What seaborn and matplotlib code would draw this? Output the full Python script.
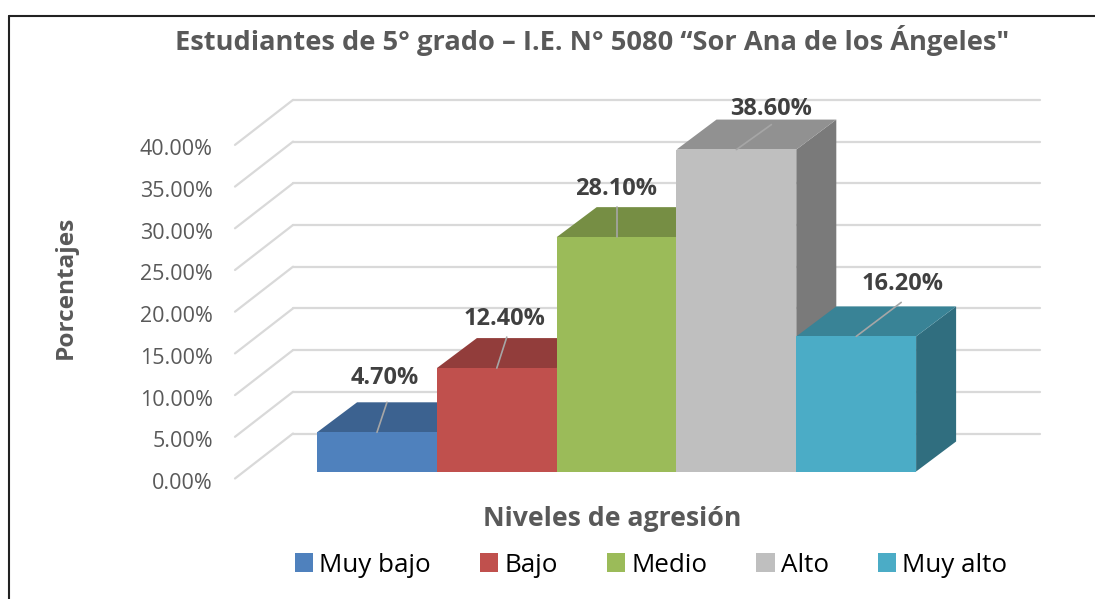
import pandas as pd
import seaborn as sns
import matplotlib
matplotlib.use('Agg')
import matplotlib.pyplot as plt
from matplotlib.patches import Polygon
from matplotlib.lines import Line2D
from matplotlib.transforms import Affine2D
from matplotlib.colors import to_rgb

# data
niveles = ['Muy bajo', 'Bajo', 'Medio', 'Alto', 'Muy alto']
porcentajes = [4.7, 12.4, 28.1, 38.6, 16.2]
etiquetas = ['4.70%', '12.40%', '28.10%', '38.60%', '16.20%']
ticks = [0, 5, 10, 15, 20, 25, 30, 35, 40]

# style
colores = ['#4F81BD', '#C0504D', '#9BBB59', '#BFBFBF', '#4BACC6']
W, H = 1095, 599
text_grey = '#595959'
label_grey = '#404040'
grid_grey = '#D9D9D9'
wall = (58, 45)     # depth of the chart walls, pixels
depth = (40, 30)    # depth of a bar, pixels
lift = 7            # bars stand this far behind the front of the floor
leaders = [(10, 30), (10, 31), (0, 30), (35, 25), (45, 34)]
label_pos = [(8, 54), (8, 49), (-1, 48), (35, 41), (46, 52)]


def px_box(left, top, right, bottom):
    return [left / W, 1 - bottom / H, (right - left) / W, (bottom - top) / H]


def shifted(ax, dx, dy):
    return ax.transData + Affine2D().translate(dx, dy)


def dark(color, k):
    return tuple(c * k for c in to_rgb(color))


sns.set_theme(style='white')
plt.rcParams['font.family'] = ['Open Sans', 'DejaVu Sans']

fig = plt.figure(figsize=(W / 100, H / 100), dpi=100)
ax = fig.add_axes(px_box(235, 144.9, 982, 478.5))

df = pd.DataFrame({'nivel': niveles, 'pct': porcentajes})
sns.barplot(data=df, x='nivel', y='pct', hue='nivel', palette=colores, order=niveles,
            hue_order=niveles, width=1, dodge=False, legend=False, ax=ax, saturation=1)

ax.set_xlim(-1.185, 5.05)
ax.set_ylim(0, 40)
sns.despine(ax=ax, left=True, bottom=True)
ax.set_xticks([])
ax.set_xlabel('')
ax.set_ylabel('')
ax.set_yticks(ticks)
ax.set_yticklabels(['%.2f%%' % t for t in ticks], fontsize=15.5, color=text_grey)
ax.tick_params(axis='y', length=0, pad=16)
for lab in ax.get_yticklabels():
    lab.set_transform(lab.get_transform() + Affine2D().translate(0, -2.5))

# walls
back = shifted(ax, *wall)
for t in ticks:
    ax.plot([-1.185, 5.05], [t, t], transform=back, color=grid_grey, lw=1.6, clip_on=False, zorder=1)
    ax.plot([-1.185, -1.185 + wall[0] / (119.8)], [t, t + wall[1] / 8.34], color=grid_grey, lw=1.6,
            clip_on=False, zorder=1)

# bars with their top and side faces
front = shifted(ax, 0, lift)
ux = depth[0] / 119.8
uy = depth[1] / 8.34
for i, cont in enumerate(ax.containers):
    bar = cont[0]
    x0, x1 = bar.get_x(), bar.get_x() + bar.get_width()
    v = bar.get_height()
    bar.set_transform(front)
    bar.set_clip_on(False)
    bar.set_zorder(3.5 + i)
    bar.set_linewidth(0)
    top = Polygon([(x0, v), (x1, v), (x1 + ux, v + uy), (x0 + ux, v + uy)], closed=True,
                  fc=dark(colores[i], .76), lw=0, transform=front, clip_on=False, zorder=3 + i)
    side = Polygon([(x1, 0), (x1 + ux, uy), (x1 + ux, v + uy), (x1, v)], closed=True,
                   fc=dark(colores[i], .64), lw=0, transform=front, clip_on=False, zorder=3 + i)
    ax.add_patch(side)
    ax.add_patch(top)

    # leader line and value label
    lx, ly = leaders[i]
    cx = (x0 + x1) / 2
    ax.plot([cx, cx + lx / 119.8], [v, v + ly / 8.34], transform=front, color='#A6A6A6', lw=1.2,
            clip_on=False, zorder=20)
    tx, ty = label_pos[i]
    ax.text(cx + tx / 119.8, v + ty / 8.34, etiquetas[i], transform=front, ha='center', va='center',
            fontsize=16.9, fontweight='bold', color=label_grey, zorder=21)

fig.text(592 / W, 1 - 40.5 / H, 'Estudiantes de 5° grado – I.E. N° 5080 “Sor Ana de los Ángeles"',
         ha='center', va='center', fontsize=19.6, fontweight='bold', color=text_grey)
fig.text(612 / W, 1 - 519 / H, 'Niveles de agresión', ha='center', va='center',
         fontsize=19.2, fontweight='bold', color=text_grey)
fig.text(66 / W, 1 - 287 / H, 'Porcentajes', rotation=90, ha='center', va='center',
         fontsize=17.6, fontweight='bold', color=text_grey)

handles = [c[0] for c in ax.containers]
fig.legend(handles, niveles, loc='center', bbox_to_anchor=(651 / W, 1 - 565 / H), ncol=5, frameon=False,
           fontsize=18.7, handlelength=.7, handleheight=.7, handletextpad=.23, columnspacing=1.9,
           labelcolor='black')

# frame of the pasted picture
fig.add_artist(Line2D([9 / W, 9 / W], [0, 1 - 16 / H], color='#222222', lw=1.5))
fig.add_artist(Line2D([9 / W, 1], [1 - 16 / H, 1 - 16 / H], color='#222222', lw=1.5))

fig.savefig('out.png', dpi=100)
